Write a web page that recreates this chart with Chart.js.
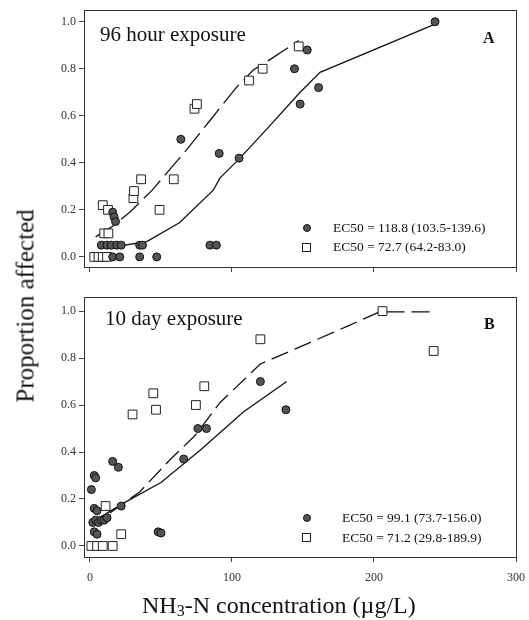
<!DOCTYPE html>
<html>
<head>
<meta charset="utf-8">
<script src="https://cdn.jsdelivr.net/npm/chart.js@4.4.0/dist/chart.umd.min.js"></script>
<style>
body { margin: 0; background: #fff; }
#wrap { position: relative; width: 529px; height: 620px; font-family: "Liberation Serif", "DejaVu Serif", serif; color: #111; }
#wrap canvas { position: absolute; left: 0; }
.txt { position: absolute; white-space: nowrap; line-height: 1; }
.dot { position: absolute; width: 8px; height: 8px; border-radius: 50%; background: #555; border: 1px solid #111; box-sizing: border-box; }
.box { position: absolute; width: 9px; height: 9px; background: #fff; border: 1px solid #222; box-sizing: border-box; }
</style>
</head>
<body>
<div id="wrap">
  <div style="position:absolute;left:0;top:0;width:529px;height:280px"><canvas id="chartA"></canvas></div>
  <div style="position:absolute;left:0;top:280px;width:529px;height:340px"><canvas id="chartB"></canvas></div>

  <div class="txt" style="left:100px;top:24px;font-size:21px">96 hour exposure</div>
  <div class="txt" style="left:483px;top:30px;font-size:16px;font-weight:bold">A</div>
  <div class="dot" style="left:303px;top:224px"></div>
  <div class="txt" style="left:333px;top:221px;font-size:13.5px">EC50 = 118.8 (103.5-139.6)</div>
  <div class="box" style="left:302px;top:243px"></div>
  <div class="txt" style="left:333px;top:240px;font-size:13.5px">EC50 = 72.7 (64.2-83.0)</div>

  <div class="txt" style="left:105px;top:308px;font-size:21px">10 day exposure</div>
  <div class="txt" style="left:484px;top:316px;font-size:16px;font-weight:bold">B</div>
  <div class="dot" style="left:303px;top:514px"></div>
  <div class="txt" style="left:342px;top:511px;font-size:13.5px">EC50 = 99.1 (73.7-156.0)</div>
  <div class="box" style="left:302px;top:533px"></div>
  <div class="txt" style="left:342px;top:531px;font-size:13.5px">EC50 = 71.2 (29.8-189.9)</div>

  <div class="txt" style="left:25px;top:306px;font-size:25px;transform:translate(-50%,-50%) rotate(-90deg)">Proportion affected</div>
  <div class="txt" style="left:142px;top:593px;font-size:24px">NH<sub style="font-size:16px;vertical-align:-3px">3</sub>-N concentration (µg/L)</div>
</div>
<script>
// axis ticks
var xTicks = [0, 100, 200, 300];
var yTicks = [0, 0.2, 0.4, 0.6, 0.8, 1.0];

// panel A - 96 hour exposure
var aCircX = [16, 21, 35, 47, 8, 12, 15, 19, 22, 35, 37, 84.5, 89, 16, 17, 18, 64, 91, 105, 144, 153, 161, 148, 243];
var aCircY = [0, 0, 0, 0, 0.05, 0.05, 0.05, 0.05, 0.05, 0.05, 0.05, 0.05, 0.05, 0.19, 0.17, 0.15, 0.50, 0.44, 0.42, 0.80, 0.88, 0.72, 0.65, 1.0];
var aSqX = [3, 6, 9, 12, 10, 13, 9, 12.7, 30.6, 31, 36, 49, 59, 73.6, 75.3, 112, 121.6, 147];
var aSqY = [0, 0, 0, 0, 0.10, 0.10, 0.22, 0.20, 0.25, 0.28, 0.33, 0.20, 0.33, 0.63, 0.65, 0.75, 0.80, 0.895];
var aSolidX = [14, 40, 63, 87, 91.5, 105.6, 124, 148, 162, 243];
var aSolidY = [0.04, 0.065, 0.145, 0.285, 0.335, 0.42, 0.54, 0.70, 0.785, 0.99];
var aDashX = [4, 16, 28, 44, 68, 84.5, 103, 115, 127, 147];
var aDashY = [0.085, 0.13, 0.19, 0.285, 0.455, 0.58, 0.72, 0.795, 0.84, 0.92];

// panel B - 10 day exposure
var bCircX = [1, 3, 4, 3, 5, 2, 4, 6, 8, 10, 12, 3, 5, 16, 20, 22, 48, 50, 66, 76, 82, 120, 138];
var bCircY = [0.24, 0.30, 0.29, 0.16, 0.15, 0.10, 0.11, 0.10, 0.11, 0.11, 0.12, 0.06, 0.05, 0.36, 0.335, 0.17, 0.06, 0.055, 0.37, 0.50, 0.50, 0.70, 0.58];
var bSqX = [1, 5, 9, 16, 11, 22, 30, 44.6, 46.5, 74.6, 80.5, 120, 206, 242];
var bSqY = [0, 0, 0, 0, 0.17, 0.05, 0.56, 0.65, 0.58, 0.60, 0.68, 0.88, 1.0, 0.83];
var bSolidX = [8, 23, 50, 78, 108, 138.5];
var bSolidY = [0.125, 0.18, 0.27, 0.41, 0.57, 0.70];
var bDashX = [14, 35, 56, 74, 91.5, 120, 145, 181, 204, 242];
var bDashY = [0.14, 0.23, 0.365, 0.47, 0.61, 0.775, 0.84, 0.935, 0.997, 0.997];

function pts(xs, ys) {
    return xs.map(function (x, i) { return { x: x, y: ys[i] }; });
}

var frame = {
    id: 'frame',
    afterDraw: function (chart) {
        var a = chart.chartArea, c = chart.ctx;
        c.save();
        c.strokeStyle = '#333';
        c.lineWidth = 1;
        c.strokeRect(Math.round(a.left) + 0.5, Math.round(a.top) + 0.5, Math.round(a.right - a.left), Math.round(a.bottom - a.top));
        c.restore();
    }
};

function makePanel(id, circ, sq, solid, dash, o) {
    var tickFont = { family: 'Liberation Serif', size: 12 };
    return new Chart(document.getElementById(id), {
        type: 'scatter',
        data: {
            datasets: [
                { data: circ, pointStyle: 'circle', pointRadius: 4, backgroundColor: '#555', borderColor: '#111', borderWidth: 1, order: 0 },
                { data: sq, pointStyle: 'rect', pointRadius: 6.2, backgroundColor: '#fff', borderColor: '#222', borderWidth: 1, order: 0 },
                { type: 'line', data: solid, showLine: true, pointRadius: 0, borderColor: '#111', borderWidth: 1.3, fill: false, tension: 0, order: 1 },
                { type: 'line', data: dash, showLine: true, pointRadius: 0, borderColor: '#111', borderWidth: 1.3, borderDash: o.dash, fill: false, tension: 0, order: 1 }
            ]
        },
        options: {
            responsive: true,
            maintainAspectRatio: false,
            animation: false,
            events: [],
            layout: { padding: { top: o.top, right: 13, left: 0, bottom: 0 } },
            plugins: { legend: { display: false }, tooltip: { enabled: false } },
            scales: {
                x: {
                    type: 'linear', min: -4.2, max: 300,
                    afterBuildTicks: function (s) { s.ticks = xTicks.map(function (v) { return { value: v }; }); },
                    afterFit: function (s) { s.height = o.xh; s.paddingLeft = 0; s.paddingRight = 0; },
                    grid: { drawOnChartArea: false, tickLength: 5, color: '#444' },
                    border: { display: false },
                    ticks: { display: o.xlabels, font: tickFont, color: '#333', padding: 9, maxRotation: 0 }
                },
                y: {
                    min: o.ymin, max: o.ymax,
                    afterBuildTicks: function (s) { s.ticks = yTicks.map(function (v) { return { value: v }; }); },
                    afterFit: function (s) { s.width = 84; s.paddingTop = 0; s.paddingBottom = 0; },
                    grid: { drawOnChartArea: false, tickLength: 5, color: '#444' },
                    border: { display: false },
                    ticks: { font: tickFont, color: '#333', padding: 3, callback: function (v) { return v.toFixed(1); } }
                }
            }
        },
        plugins: [frame]
    });
}

makePanel('chartA', pts(aCircX, aCircY), pts(aSqX, aSqY), pts(aSolidX, aSolidY), pts(aDashX, aDashY),
    { top: 10, xh: 13, xlabels: false, ymin: -0.043, ymax: 1.05, dash: [24, 7] });
makePanel('chartB', pts(bCircX, bCircY), pts(bSqX, bSqY), pts(bSolidX, bSolidY), pts(bDashX, bDashY),
    { top: 17, xh: 63, xlabels: true, ymin: -0.047, ymax: 1.06, dash: [18, 7] });
</script>
</body>
</html>
